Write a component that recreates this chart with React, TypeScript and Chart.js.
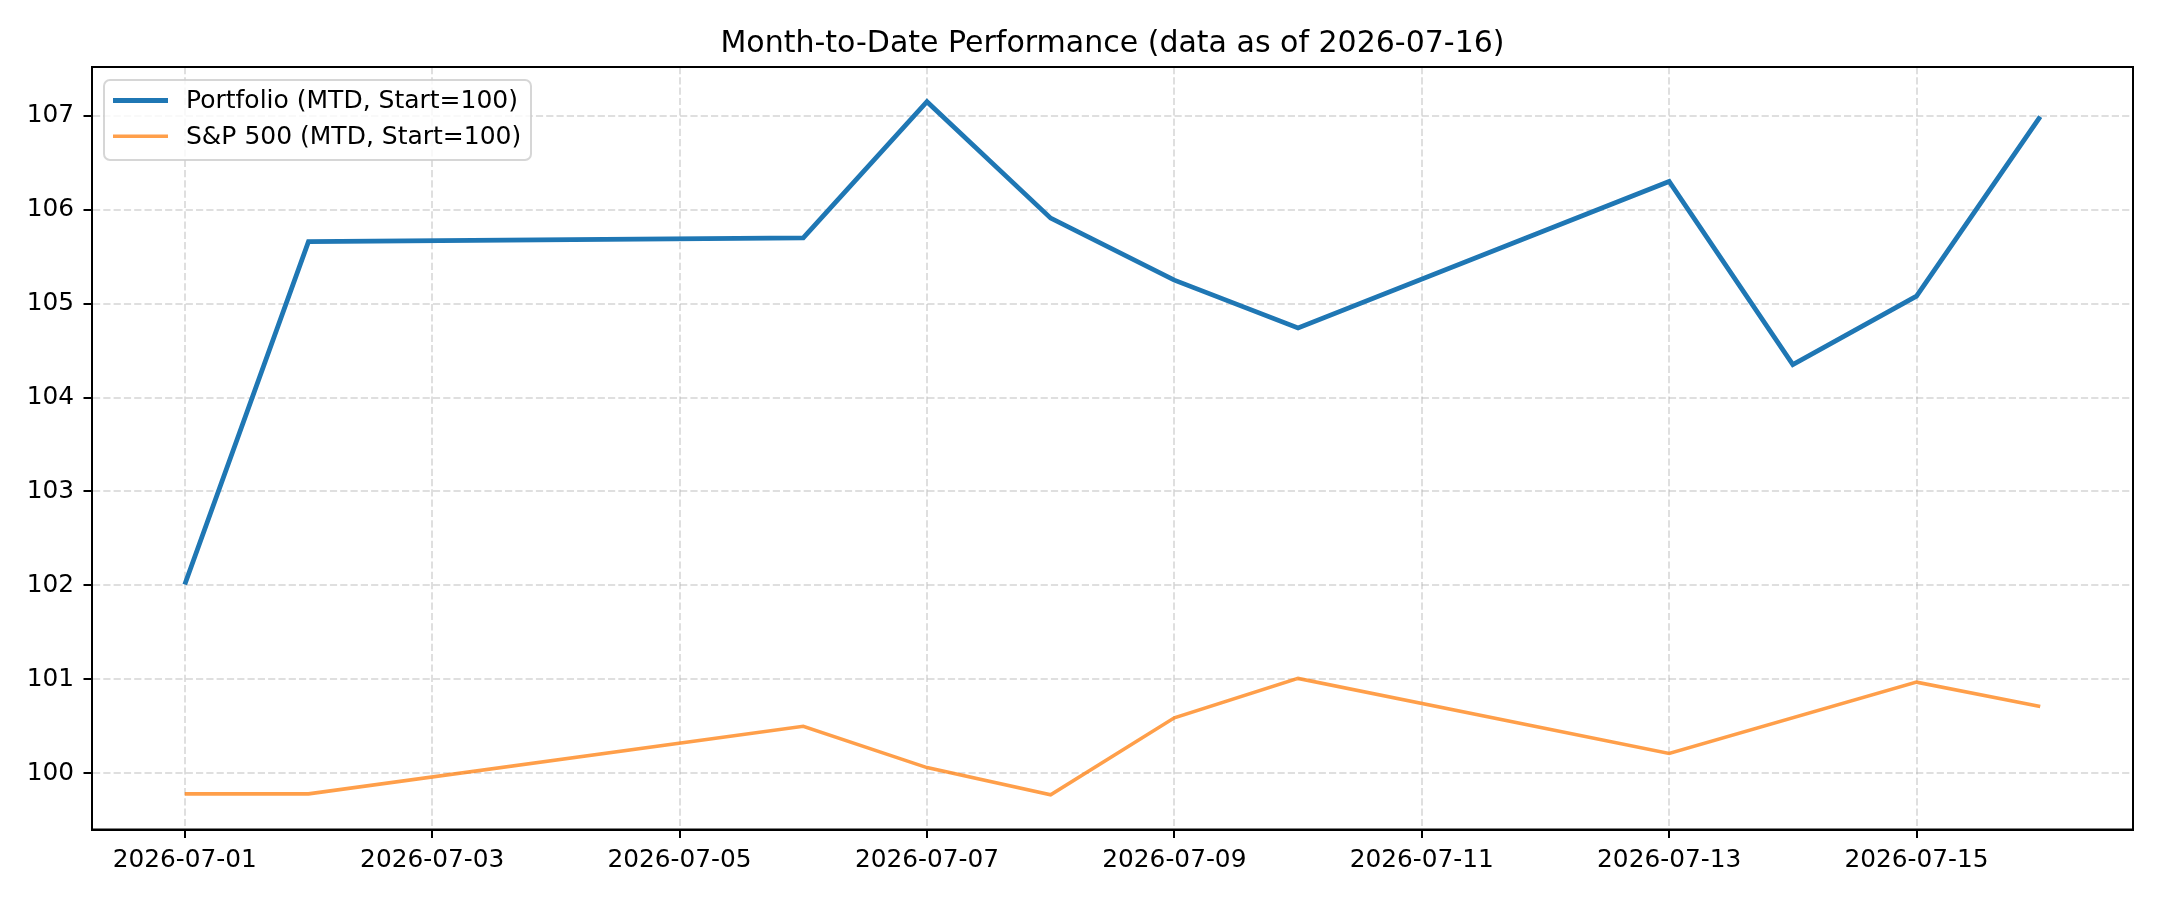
import { useEffect, useRef } from 'react';
import { Chart, registerables } from 'chart.js';

Chart.register(...registerables);

// Trading days in the month and the two indexed series (start = 100)
const dates = [
  '2026-07-01', '2026-07-02', '2026-07-06', '2026-07-07', '2026-07-08', '2026-07-09',
  '2026-07-10', '2026-07-13', '2026-07-14', '2026-07-15', '2026-07-16',
];
const portfolio = [102.01, 105.66, 105.70, 107.15, 105.91, 105.25, 104.74, 106.30, 104.35, 105.08, 106.99];
const sp500 = [99.78, 99.78, 100.50, 100.06, 99.77, 100.59, 101.01, 100.21, null, 100.97, 100.71];

const xTickDates = ['2026-07-01', '2026-07-03', '2026-07-05', '2026-07-07', '2026-07-09', '2026-07-11', '2026-07-13', '2026-07-15'];
const yTicks = [100, 101, 102, 103, 104, 105, 106, 107];

const titleText = 'Month-to-Date Performance (data as of 2026-07-16)';
const seriesNames = ['Portfolio (MTD, Start=100)', 'S&P 500 (MTD, Start=100)'];
const seriesColors = ['#1f77b4', 'rgba(255,127,14,0.75)'];
const seriesWidths = [4.8, 3.6];

const FONT = "'DejaVu Sans', 'Liberation Sans', sans-serif";
const TICK_SIZE = 24.8;
const LEGEND_SIZE = 25;
const TITLE_SIZE = 30;
const DAY = 86400000;
const ORIGIN = Date.UTC(2026, 6, 1);
const toDay = (s: string) => (Date.parse(s + 'T00:00:00Z') - ORIGIN) / DAY;
const fromDay = (d: number) => new Date(ORIGIN + Math.round(d) * DAY).toISOString().slice(0, 10);

// Axis limits padded by 5% of the data span on each side
const xs = dates.map(toDay);
const xSpan = xs[xs.length - 1] - xs[0];
const xMin = xs[0] - 0.05 * xSpan;
const xMax = xs[xs.length - 1] + 0.05 * xSpan;
const allY = [...portfolio, ...sp500].filter((v): v is number => v !== null);
const yLo = Math.min(...allY);
const yHi = Math.max(...allY);
const yMin = yLo - 0.05 * (yHi - yLo);
const yMax = yHi + 0.05 * (yHi - yLo);

const framePlugin = {
  id: 'frameAndLegend',
  afterDatasetsDraw(chart: any) {
    const { ctx, chartArea: a } = chart;
    ctx.save();
    // four spines
    ctx.strokeStyle = '#000';
    ctx.lineWidth = 2;
    ctx.setLineDash([]);
    ctx.strokeRect(a.left, a.top, a.right - a.left, a.bottom - a.top);

    // legend box in the upper-left corner of the plot
    const bx = a.left + 12, by = a.top + 13, bw = 427, bh = 80;
    ctx.beginPath();
    ctx.roundRect(bx, by, bw, bh, 6);
    ctx.fillStyle = 'rgba(255,255,255,0.8)';
    ctx.fill();
    ctx.strokeStyle = 'rgba(204,204,204,0.8)';
    ctx.lineWidth = 2;
    ctx.stroke();

    ctx.font = `${LEGEND_SIZE}px ${FONT}`;
    ctx.textBaseline = 'middle';
    ctx.textAlign = 'left';
    seriesNames.forEach((name, i) => {
      const cy = by + 20.5 + i * 35.7;
      ctx.beginPath();
      ctx.strokeStyle = seriesColors[i];
      ctx.lineWidth = seriesWidths[i];
      ctx.moveTo(bx + 9, cy);
      ctx.lineTo(bx + 64, cy);
      ctx.stroke();
      ctx.fillStyle = '#000';
      ctx.fillText(name, bx + 82, cy + 1);
    });

    // title centred over the axes
    ctx.font = `${TITLE_SIZE}px ${FONT}`;
    ctx.textAlign = 'center';
    ctx.textBaseline = 'alphabetic';
    ctx.fillText(titleText, (a.left + a.right) / 2, a.top - 14.7);
    ctx.restore();
  },
};

export default function App() {
  const ref = useRef<HTMLCanvasElement | null>(null);

  useEffect(() => {
    if (!ref.current) return;
    const gridColor = 'rgba(176,176,176,0.4)';
    const chart = new Chart(ref.current, {
      type: 'line',
      data: {
        datasets: [
          {
            label: seriesNames[0],
            data: dates.map((d, i) => ({ x: toDay(d), y: portfolio[i] })),
            borderColor: seriesColors[0],
            borderWidth: seriesWidths[0],
            pointRadius: 0,
            tension: 0,
            fill: false,
          },
          {
            label: seriesNames[1],
            data: dates.map((d, i) => ({ x: toDay(d), y: sp500[i] })),
            borderColor: seriesColors[1],
            borderWidth: seriesWidths[1],
            pointRadius: 0,
            tension: 0,
            fill: false,
            spanGaps: true,
          },
        ],
      },
      options: {
        animation: false,
        responsive: false,
        maintainAspectRatio: false,
        devicePixelRatio: 1,
        layout: { padding: { top: 67, right: 27, bottom: 0, left: 0 } },
        plugins: {
          legend: { display: false },
          title: { display: false },
          tooltip: { enabled: false },
        },
        scales: {
          x: {
            type: 'linear',
            min: xMin,
            max: xMax,
            afterBuildTicks: (s: any) => {
              s.ticks = xTickDates.map((d) => ({ value: toDay(d) }));
            },
            afterFit: (s: any) => {
              s.height = 70.5;
            },
            ticks: {
              callback: (v: any) => fromDay(Number(v)),
              font: { family: FONT, size: TICK_SIZE },
              color: '#000',
              padding: 8,
              maxRotation: 0,
              autoSkip: false,
            },
            grid: {
              color: gridColor,
              lineWidth: 2,
              tickLength: 8.5,
              tickColor: '#000',
              tickWidth: 2,
              tickBorderDash: [],
            },
            border: { display: true, color: '#000', width: 2, dash: [7.2, 3.1] },
          },
          y: {
            type: 'linear',
            min: yMin,
            max: yMax,
            afterBuildTicks: (s: any) => {
              s.ticks = yTicks.map((v) => ({ value: v }));
            },
            afterFit: (s: any) => {
              s.width = 92;
            },
            ticks: {
              callback: (v: any) => String(v),
              font: { family: FONT, size: TICK_SIZE },
              color: '#000',
              padding: 9.5,
            },
            grid: {
              color: gridColor,
              lineWidth: 2,
              tickLength: 8.5,
              tickColor: '#000',
              tickWidth: 2,
              tickBorderDash: [],
            },
            border: { display: true, color: '#000', width: 2, dash: [7.2, 3.1] },
          },
        },
      },
      plugins: [framePlugin],
    } as any);
    return () => chart.destroy();
  }, []);

  return (
    <canvas
      ref={ref}
      width={2160}
      height={900}
      style={{ position: 'absolute', left: 0, top: 0, width: 2160, height: 900, display: 'block', background: '#fff' }}
    />
  );
}
